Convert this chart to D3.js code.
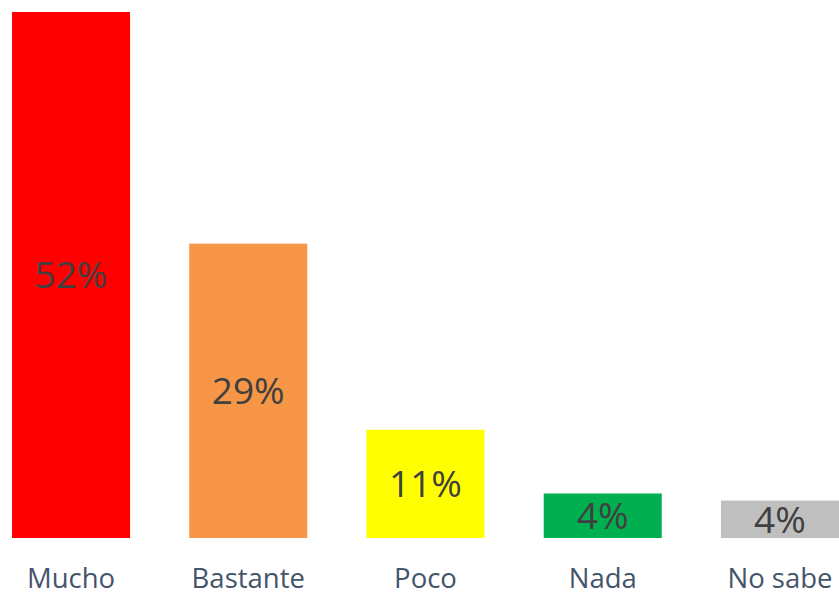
<!DOCTYPE html>
<html><head><meta charset="utf-8">
<script src="https://cdn.jsdelivr.net/npm/d3@7"></script>
<style>html,body{margin:0;padding:0;background:#fff;overflow:hidden}</style>
</head><body>
<svg id="c" width="839" height="592"></svg>
<script>
const categories = ["Mucho", "Bastante", "Poco", "Nada", "No sabe"];
const values = [52, 29.1, 10.7, 4.4, 3.7];
const valueLabels = ["52%", "29%", "11%", "4%", "4%"];
const colors = ["#FF0000", "#F79646", "#FFFF00", "#00B050", "#BFBFBF"];

const svg = d3.select("#c");
const x = d3.scaleBand().domain(categories).range([12, 839]).paddingInner(0.334).paddingOuter(0);
const y = d3.scaleLinear().domain([0, 52]).range([538, 12]);

svg.selectAll("rect.bar").data(categories).join("rect")
  .attr("class", "bar")
  .attr("x", d => x(d)).attr("width", x.bandwidth())
  .attr("y", (d, i) => y(values[i])).attr("height", (d, i) => y(0) - y(values[i]))
  .attr("fill", (d, i) => colors[i]);

svg.selectAll("text.val").data(categories).join("text")
  .attr("class", "val")
  .attr("x", d => x(d) + x.bandwidth() / 2)
  .attr("y", (d, i) => (y(values[i]) + y(0)) / 2)
  .attr("dy", "0.36em")
  .attr("text-anchor", "middle")
  .attr("font-family", "Open Sans, sans-serif")
  .attr("font-size", 37)
  .attr("fill", "#404040")
  .text((d, i) => valueLabels[i]);

const axis = d3.axisBottom(x).tickSize(0).tickPadding(0);
const g = svg.append("g").attr("transform", "translate(0,568)").call(axis);
g.select(".domain").remove();
g.selectAll("text")
  .attr("font-family", "Open Sans, sans-serif")
  .attr("font-size", 27.5)
  .attr("fill", "#44546A")
  .attr("dy", "0.72em");
</script>
</body></html>
